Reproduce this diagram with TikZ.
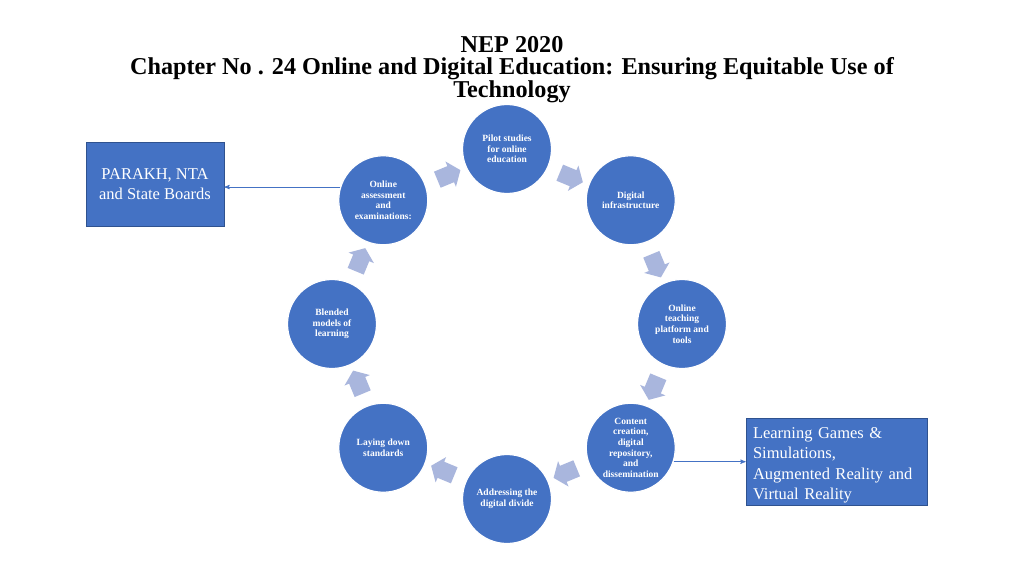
\documentclass[tikz,border=0pt]{standalone}
\usepackage{fontspec}
\setmainfont{Liberation Serif}
\usetikzlibrary{calc}
\usetikzlibrary{arrows}
\usetikzlibrary{shapes.arrows}
\definecolor{stageblue}{HTML}{4472C4}
\definecolor{arrowgray}{HTML}{A9B6DD}
\definecolor{boxedge}{HTML}{2F528F}

\begin{document}
\begin{tikzpicture}[x=1pt, y=-1pt,
 stage/.style={circle, fill=stageblue, draw=white, line width=1.2pt, minimum size=89pt, inner sep=0pt, align=center, text=white, font=\fontsize{9.5}{10.7}\selectfont\bfseries},
 cyclearrow/.style={single arrow, fill=arrowgray, inner xsep=0pt, inner ysep=8.5pt, minimum height=25pt, single arrow head extend=5pt, single arrow tip angle=105},
 sidebox/.style={rectangle, fill=stageblue, draw=boxedge, line width=.8pt, text=white, font=\fontsize{16.5}{20.5}\selectfont},
 link/.style={stageblue, line width=.9pt, ->, >=stealth'}]
\useasboundingbox[fill=white] (0,0) rectangle (1024,575);
\node[font=\fontsize{24.2}{22}\selectfont\bfseries, align=center] (title) at (512,69.5)
 {NEP 2020\\Chapter No . 24 Online and Digital Education: Ensuring Equitable Use of\\Technology};
% stages round the cycle
\foreach \ang/\name/\txt in {90/pilot/{Pilot studies\\for online\\education},
 45/infra/{Digital\\infrastructure},
 0/platform/{Online\\teaching\\platform and\\tools},
 -45/content/{Content\\creation,\\digital\\repository,\\and\\dissemination},
 -90/divide/{Addressing the\\digital divide},
 -135/standards/{Laying down\\standards},
 180/blended/{Blended\\models of\\learning},
 135/assess/{Online\\assessment\\and\\examinations:}} {
 \node[stage] (\name) at ({507+175*cos(\ang)},{324-175*sin(\ang)}) {\txt};
}
% arrows between stages
\foreach \ang [count=\i] in {67.5, 22.5, -22.5, -67.5, -112.5, -157.5, 157.5, 112.5} {
 \node[cyclearrow, rotate={\ang-90}] (arr\i) at ({507+160*cos(\ang)},{324-160*sin(\ang)}) {};
}
\node[sidebox, minimum width=138pt, minimum height=84pt, align=center] (parakh) at (155,184)
 {PARAKH, NTA\\and State Boards};
\node[sidebox, minimum width=181pt, minimum height=87pt, text width=167pt, inner xsep=7pt, align=left] (games) at (836.5,461.5)
 {Learning Games \&\\Simulations,\\Augmented Reality and\\Virtual Reality\par\vspace{-8pt}};
\draw[link] (assess.163) -- (parakh.east |- assess.163);
\draw[link] (content.-18) -- (games.west |- content.-18);
\end{tikzpicture}
\end{document}
